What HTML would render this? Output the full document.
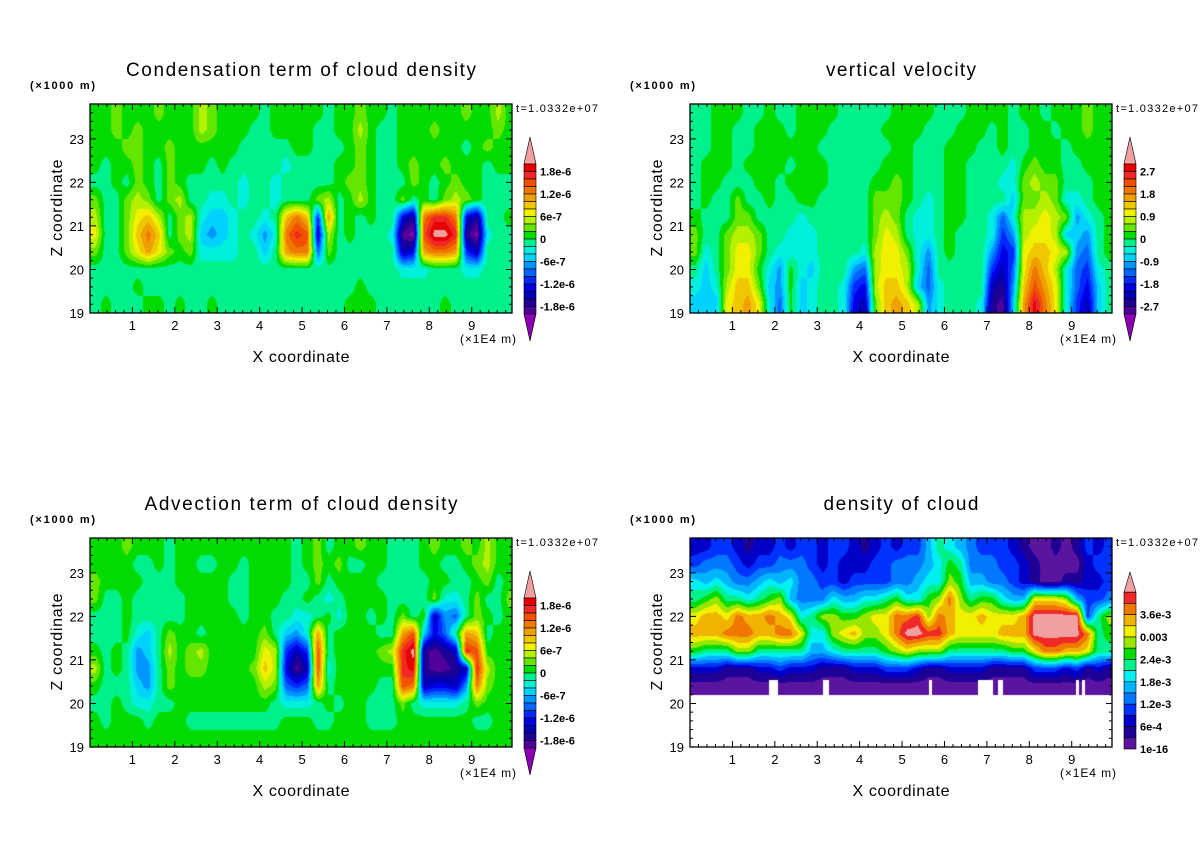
<!DOCTYPE html>
<html><head><meta charset="utf-8">
<style>
html,body{margin:0;padding:0;background:#fff;}
#wrap{position:relative;width:1200px;height:868px;overflow:hidden;background:#fff;}
canvas{position:absolute;}
svg{position:absolute;left:0;top:0;}
text{font-family:"Liberation Sans",sans-serif;fill:#000;}
</style></head>
<body>
<div id="wrap">
<canvas id="c1" width="422" height="209" style="left:90px;top:104px"></canvas>
<canvas id="c2" width="422" height="209" style="left:690px;top:104px"></canvas>
<canvas id="c3" width="422" height="209" style="left:90px;top:538px"></canvas>
<canvas id="c4" width="422" height="209" style="left:690px;top:538px"></canvas>
<svg id="ov" width="1200" height="868"></svg>
</div>
<script>
// ---- data ----
const xTicks = [1,2,3,4,5,6,7,8,9];
const zTicks = [19,20,21,22,23];
const rowZ = [23.6,23.2,22.8,22.4,22.0,21.6,21.2,20.8,20.4,20.0,19.6,19.2];
const densRowZ = [23.6,23.2,22.8,22.4,22.0,21.6,21.2,20.8,20.4];
// condensation term, units: level char (a..v), step 2e-7
const cond_rows = [
"llmlllmlll nmllllklll llkllmllkl lllllmllnl",
"llmlmlllll nmlllkklll lkkllnlkkl llmlllllml",
"lllmmllmll llllkkkkkl lkkklmlkkl lllllklmll",
"lkllmlkmll lklkkkkkjk kkkllmlkkl mllmlllkll",
"kklkmlkmlk kkkkjkkjkk kkklmmlkkk mlklmllkkk",
"mkkmnmkmnk kjjkjkkjkk kmnklnlkkm klkmnmlkkk",
"nkkmopnkmn jiijkkjkpr pfqklklkke crttreckkl",
"okkmprpkmn ihijkjhjrt sdnklkkkjb asvvtcajkk",
"mkkmoqomlm jjjjkkikqr rgmkkkkkkd eqrrqfdkkk",
"kkkkkkkkkk kkkkkkkkkk kkkkkkkkkj jjkkkjjkkk",
"kkkklkkkkk kkkkkkkkkk kkkkklkkkk kkkkkkkkkk",
"klkkkllklk klkkkkkkkk kkkklllkkk kkklkkkkkk"];
// vertical velocity, step 0.3
const w_rows = [
"kklllkklkk llllkkkkkl lllkkkllll kllklllmll",
"kkllkklllk lllkkkkkll llkkklllkl kkllkllmll",
"kkllkkllll llkkkkkkkl lkkklllkkl kklllkllll",
"klllkllllk lllkkkkkll lkkkllkkkk jlmllkklll",
"kllkkkllkl lllkkkkllm lkkkllkkkj jmnmmkkkll",
"klkkmkklkk llkkkkkmmm lkjkllkkkk immnmjjkll",
"lkkkmmkkkk jkkkkkkmnm kjjkllkkjg jnnonmhjkl",
"mkkmnnmkkj jjkkkkkmon kjjklkkkjf hnooniihkl",
"mjkmoomkjj jjkkkkjnoo mjhklkkkhe fopponhgkl",
"kikmooljhl jikkkhgnoo njgkkkkkfd gorpnjgfjk",
"jijnppmihl ijkkjfenpp nigjkkkkdc hpsqojgeik",
"iiiopqojgl ijkkjedmpq pnhjkkkjcb iqurojfdik"];
// advection term, step 2e-7
const adv_rows = [
"lllmlllkll lllllllllk lmkllmllkk klmllmlnll",
"llllkklkll kkllkllllk lmlmkkllkk kllkklmnll",
"mllllkkkll lllkkllllk kmkllllkkk kkllkklmkl",
"mkklkkkkkl lllkklllkk lkjkllllkk kkmjjkmkkm",
"kkklkkkkkl llllkllkkj jkljllklkm kldhgkmlkl",
"kkkljikmll klllllmkih jqkllllkkq siegkqpkll",
"lklkhiknlm nlllllonfd fskllllmnt vcbcdtslll",
"nklkhhkmlm mllllmpneb dsjllllllt ucbbcdtnll",
"lkkkihkmll llllllnmgf gqkllllkks rdeedhrmll",
"kklkjjkkll lllllllkjj jklkllkkkm kjjjjkmlll",
"lklllklllk kkkkkkkkll lkklllkkkl llllllkkll",
"llllllllll llllllllll llllllllll llllllllll"];
// cloud density, step 3e-4 (a..n boxes, o above max)
const dens_rows = [
"ccddcbccdc ddcddcbcdc ddfhgfeddd cbaababdcd",
"deeedcddee edcdcccdde eefgiheeed dcbaaaacdd",
"gfgfeefgfg eeddcdddde efggjiffee dcbaabbccd",
"hijhhghijf eeegffgghi ggijmjhiig ffkkkjfdde",
"kllkmllmlk ghjjiijkkm mnjmlkklkk klooooodhj",
"lllmmmllmm kggjkljjkm oonnlkkkkl llooooomhi",
"ihhhjjhhhh hffghhhhij kjjjhhhhhh iikmmllkhh",
"cccbbbccdc ccbbbcccdd dcbbccccbb bbdddcdbcb",
"aaaaaaaaaa aaaaaaaaaa aaaaaaaaaa aaaaaaaaaa"];
const dens_floor = 20.2;
const dens_gaps = [[1.87,2.08],[3.13,3.28],[5.63,5.70],[6.78,7.15],[7.27,7.37],[9.10,9.17],[9.25,9.32]];
const dens_gap_top = 20.55;
const cond_labels = ["1.8e-6","1.2e-6","6e-7","0","-6e-7","-1.2e-6","-1.8e-6"];
const w_labels = ["2.7","1.8","0.9","0","-0.9","-1.8","-2.7"];
const dens_labels = ["3.6e-3","0.003","2.4e-3","1.8e-3","1.2e-3","6e-4","1e-16"];

// ---- styles ----
const COLORS22 = ["#8c00b4","#50009b","#1e0096","#0000b4","#0000e6","#0028ff","#0064ff","#0096ff","#00d2ff","#00f0dc","#00f08c","#00dc00","#64e600","#b4f000","#f0f000","#f0c800","#f0a000","#f07800","#f05000","#f02828","#e60000","#f0a0a0"];
const COLORS15 = ["#5a14a0","#1e0096","#0000c8","#0032ff","#0078ff","#00b4ff","#00f0f0","#00f08c","#00dc00","#96e600","#f0f000","#f0b400","#f07800","#f02828","#f0a0a0"];
const X_MAX = 9.95, Z_MIN = 19, Z_MAX = 23.8, PW = 422, PH = 209;

function parseRows(rows){return rows.map(r=>{const s=r.replace(/ /g,'');const a=[];for(let i=0;i<40;i++){const ch=s[Math.min(i,s.length-1)];a.push(ch.charCodeAt(0)-97);}return a;});}
function hex(c){return [parseInt(c.substr(1,2),16),parseInt(c.substr(3,2),16),parseInt(c.substr(5,2),16)];}

function drawField(id, rows, zs, toVal, levels, colors, masked){
  const cv=document.getElementById(id), ctx=cv.getContext('2d');
  const img=ctx.createImageData(PW,PH);
  const grid=parseRows(rows).map(r=>r.map(toVal));
  const cols=colors.map(hex);
  const nr=zs.length;
  for(let py=0;py<PH;py++){
    const z=Z_MAX-(py+0.5)/PH*(Z_MAX-Z_MIN);
    let fr=(zs[0]-z)/(zs[0]-zs[1]); fr=Math.max(0,Math.min(nr-1,fr));
    const r0=Math.floor(fr), r1=Math.min(nr-1,r0+1), tr=fr-r0;
    for(let px=0;px<PW;px++){
      const x=(px+0.5)/PW*X_MAX;
      const o=(py*PW+px)*4;
      if(masked && masked(x,z)){img.data[o]=255;img.data[o+1]=255;img.data[o+2]=255;img.data[o+3]=255;continue;}
      let fc=(x-0.125)/0.25; fc=Math.max(0,Math.min(39,fc));
      const c0=Math.floor(fc), c1=Math.min(39,c0+1), tc=fc-c0;
      const v=(grid[r0][c0]*(1-tc)+grid[r0][c1]*tc)*(1-tr)+(grid[r1][c0]*(1-tc)+grid[r1][c1]*tc)*tr;
      let k=0; while(k<levels.length && v>=levels[k]) k++;
      const c=cols[k];
      img.data[o]=c[0];img.data[o+1]=c[1];img.data[o+2]=c[2];img.data[o+3]=255;
    }
  }
  ctx.putImageData(img,0,0);
}
const lev22=(step)=>{const a=[];for(let j=1;j<=21;j++)a.push((j-11)*step);return a;};
drawField('c1',cond_rows,rowZ,k=>(k-10.5)*2e-7,lev22(2e-7),COLORS22,null);
drawField('c2',w_rows,rowZ,k=>(k-10.5)*0.3,lev22(0.3),COLORS22,null);
drawField('c3',adv_rows,rowZ,k=>(k-10.5)*2e-7,lev22(2e-7),COLORS22,null);
const lev15=[];for(let j=1;j<=14;j++)lev15.push(j*3e-4);
drawField('c4',dens_rows,densRowZ,k=>(k+0.5)*3e-4,lev15,COLORS15,(x,z)=>{
  if(z<dens_floor) return true;
  if(z<dens_gap_top){for(const g of dens_gaps){if(x>=g[0]&&x<=g[1])return true;}}
  return false;});

// ---- annotations ----
const NS="http://www.w3.org/2000/svg";
const svg=document.getElementById('ov');
function mk(tag,attrs,parent){const e=document.createElementNS(NS,tag);for(const k in attrs)e.setAttribute(k,attrs[k]);(parent||svg).appendChild(e);return e;}
function txt(str,attrs,parent){const e=mk('text',attrs,parent);e.textContent=str;return e;}

const panels=[
 {L:90,T:104,title:"Condensation term of cloud density",tw:350,key:"condensation",labels:cond_labels,dens:false},
 {L:690,T:104,title:"vertical velocity",tw:150,key:"velocity",labels:w_labels,dens:false},
 {L:90,T:538,title:"Advection term of cloud density",tw:313,key:"advection",labels:cond_labels,dens:false},
 {L:690,T:538,title:"density of cloud",tw:155,key:"density",labels:dens_labels,dens:true}];

const xs=(p,x)=>p.L+x/X_MAX*PW;
const zsf=(p,z)=>p.T+PH-(z-Z_MIN)/(Z_MAX-Z_MIN)*PH;

panels.forEach(p=>{
  const g=mk('g',{});
  
  
  const cx=p.L+211, off=p.T-104;
  const t=txt(p.title,{x:cx,y:76+off,'text-anchor':'middle','font-size':19,textLength:p.tw,lengthAdjust:'spacing'},g);
  
  
  const u=txt("(×1000 m)",{x:p.L-60,y:89+off,'font-size':11,'font-weight':'bold',textLength:65,lengthAdjust:'spacing'},g);
  
  
  const tl=txt("t=1.0332e+07",{x:p.L+426,y:112+off,'font-size':11,fill:'#555',textLength:82,lengthAdjust:'spacing'},g);
  
  
  const fr=mk('rect',{x:p.L,y:p.T,width:PW,height:PH,fill:'none',stroke:'#000','stroke-width':1.3},g);
  
  
  // ticks
  let d="";
  for(let i=1;i<=49;i++){const v=i*0.2;if(v>X_MAX)break;const X=xs(p,v);const major=Math.abs(v-Math.round(v))<1e-6;const len=major?6:3;
    d+=`M${X},${p.T+PH}v${-len}M${X},${p.T}v${len}`;}
  for(let i=1;i<24;i++){const v=Z_MIN+i*0.2;if(v>=Z_MAX-1e-6)break;const Y=zsf(p,v);const major=Math.abs(v-Math.round(v))<1e-6;const len=major?6:3;
    d+=`M${p.L},${Y}h${len}M${p.L+PW},${Y}h${-len}`;}
  const tk=mk('path',{d:d,stroke:'#000','stroke-width':1,fill:'none'},g);
  
  
  xTicks.forEach(v=>{const e=txt(String(v),{x:xs(p,v),y:330+off,'text-anchor':'middle','font-size':13},g);
    
    });
  zTicks.forEach(v=>{const e=txt(String(v),{x:p.L-6,y:zsf(p,v)+5,'text-anchor':'end','font-size':13},g);
    
    });
  const xu=txt("(×1E4 m)",{x:p.L+370,y:343+off,'font-size':12,textLength:56,lengthAdjust:'spacing'},g);
  
  
  const xt=txt("X coordinate",{x:p.L+211,y:362+off,'text-anchor':'middle','font-size':16,textLength:97,lengthAdjust:'spacing'},g);
  
  
  const zt=txt("Z coordinate",{x:0,y:0,'text-anchor':'middle','font-size':16,textLength:97,lengthAdjust:'spacing',transform:`translate(${p.L-28},${208+off}) rotate(-90)`},g);
  
  
  // colorbar
  const cb=mk('g',{},g);
  
  
  const bx=p.L+434, bw=12;
  if(!p.dens){
    const top=164+off, bh=7.5;
    const tri=mk('polygon',{points:`${bx},${top} ${bx+bw/2},${top-27} ${bx+bw},${top}`,fill:COLORS22[21],stroke:'#000','stroke-width':0.6},cb);
    
    
    for(let i=0;i<20;i++){const r=mk('rect',{x:bx,y:top+i*bh,width:bw,height:bh,fill:COLORS22[20-i],stroke:'#000','stroke-width':0.6},cb);
      
      }
    const b2=mk('polygon',{points:`${bx},${top+150} ${bx+bw/2},${top+177} ${bx+bw},${top+150}`,fill:COLORS22[0],stroke:'#000','stroke-width':0.6},cb);
    
    
    p.labels.forEach((s,i)=>{const e=txt(s,{x:bx+16,y:top+bh*(1+3*i)+4,'font-size':11,'font-weight':'bold'},cb);
      
      });
  } else {
    const bot=749, bh=11.2, top=bot-14*bh;
    const tri=mk('polygon',{points:`${bx},${top} ${bx+bw/2},${572} ${bx+bw},${top}`,fill:COLORS15[14],stroke:'#000','stroke-width':0.6},cb);
    
    
    for(let i=0;i<14;i++){const r=mk('rect',{x:bx,y:top+i*bh,width:bw,height:bh,fill:COLORS15[13-i],stroke:'#000','stroke-width':0.6},cb);
      
      }
    p.labels.forEach((s,i)=>{const e=txt(s,{x:bx+16,y:bot-bh*2*(6-i)+4,'font-size':11,'font-weight':'bold'},cb);
      
      });
  }
});
</script>
</body></html>
